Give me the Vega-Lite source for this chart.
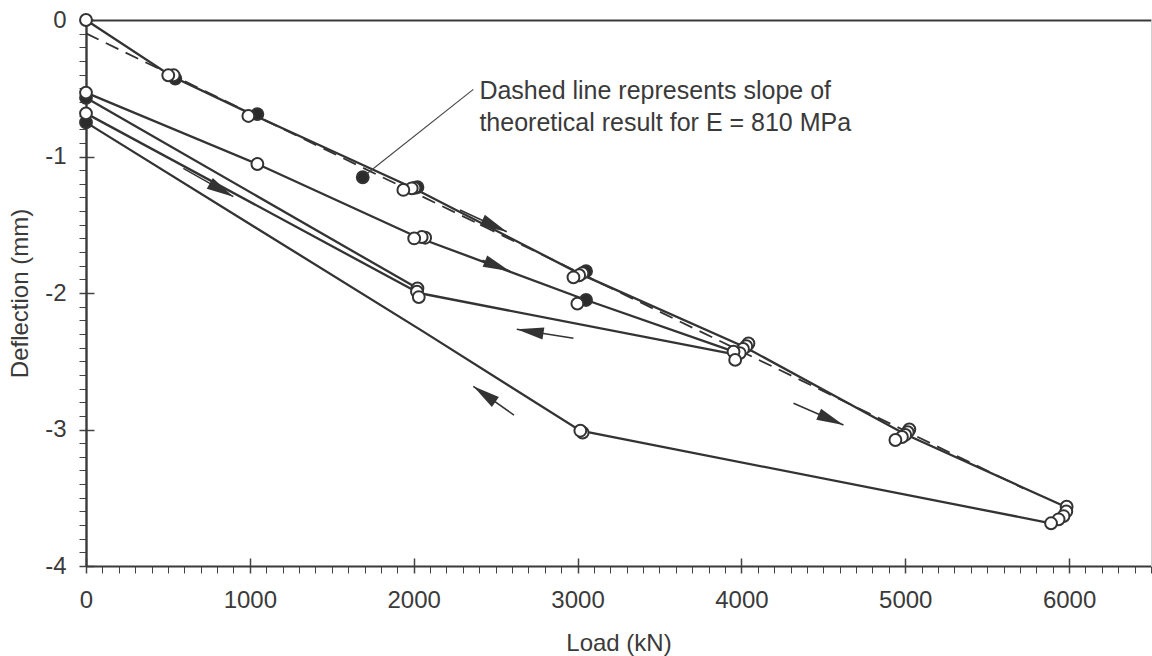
{
  "$schema": "https://vega.github.io/schema/vega-lite/v6.json",
  "width": 1065,
  "height": 546,
  "autosize": {"type": "none"},
  "padding": {"left": 86, "top": 20, "right": 1, "bottom": 90},
  "background": "white",
  "config": {
    "view": {"stroke": null},
    "font": "Liberation Sans",
    "text": {"font": "Liberation Sans"}
  },
  "datasets": {
    "lines": [
      {"seg": "L1", "o": 1, "load": 0, "defl": 0},
      {"seg": "L1", "o": 2, "load": 520, "defl": -0.41},
      {"seg": "L1", "o": 3, "load": 1020, "defl": -0.695},
      {"seg": "L1", "o": 4, "load": 2000, "defl": -1.232},
      {"seg": "L1", "o": 5, "load": 3015, "defl": -1.86},
      {"seg": "L1", "o": 6, "load": 4020, "defl": -2.395},
      {"seg": "L1", "o": 7, "load": 5000, "defl": -3.035},
      {"seg": "L1", "o": 8, "load": 5985, "defl": -3.57},
      {"seg": "L2", "o": 1, "load": 0, "defl": -0.532},
      {"seg": "L2", "o": 2, "load": 1046, "defl": -1.055},
      {"seg": "L2", "o": 3, "load": 2030, "defl": -1.595},
      {"seg": "L2", "o": 4, "load": 3052, "defl": -2.051},
      {"seg": "L2", "o": 5, "load": 3955, "defl": -2.43},
      {"seg": "L3", "o": 1, "load": 0, "defl": -0.57},
      {"seg": "L3", "o": 2, "load": 2023, "defl": -1.966},
      {"seg": "L4a", "o": 1, "load": 0, "defl": -0.684},
      {"seg": "L4a", "o": 2, "load": 2031, "defl": -2.0},
      {"seg": "L4b", "o": 1, "load": 2031, "defl": -2.0},
      {"seg": "L4b", "o": 2, "load": 3960, "defl": -2.45},
      {"seg": "L5", "o": 1, "load": 0, "defl": -0.75},
      {"seg": "L5", "o": 2, "load": 2059, "defl": -2.283},
      {"seg": "L5", "o": 3, "load": 3017, "defl": -3.009},
      {"seg": "L5", "o": 4, "load": 5890, "defl": -3.687}
    ],
    "theory": [
      {"load": 0, "defl": -0.098},
      {"load": 5722, "defl": -3.431}
    ],
    "points": [
      {"load": 0, "defl": 0, "kind": "open"},
      {"load": 545, "defl": -0.43, "kind": "filled"},
      {"load": 535, "defl": -0.405, "kind": "open"},
      {"load": 502, "defl": -0.405, "kind": "open"},
      {"load": 1046, "defl": -0.689, "kind": "filled"},
      {"load": 991, "defl": -0.703, "kind": "open"},
      {"load": 0, "defl": -0.57, "kind": "filled"},
      {"load": 0, "defl": -0.532, "kind": "open"},
      {"load": 0, "defl": -0.75, "kind": "filled"},
      {"load": 0, "defl": -0.684, "kind": "open"},
      {"load": 1046, "defl": -1.055, "kind": "open"},
      {"load": 1689, "defl": -1.152, "kind": "filled"},
      {"load": 2023, "defl": -1.225, "kind": "filled"},
      {"load": 2005, "defl": -1.23, "kind": "open"},
      {"load": 1988, "defl": -1.233, "kind": "open"},
      {"load": 1937, "defl": -1.245, "kind": "open"},
      {"load": 2070, "defl": -1.595, "kind": "open"},
      {"load": 2049, "defl": -1.59, "kind": "open"},
      {"load": 2003, "defl": -1.6, "kind": "open"},
      {"load": 2023, "defl": -1.966, "kind": "open"},
      {"load": 2020, "defl": -1.99, "kind": "open"},
      {"load": 2031, "defl": -2.03, "kind": "open"},
      {"load": 3052, "defl": -1.84, "kind": "filled"},
      {"load": 3030, "defl": -1.855, "kind": "open"},
      {"load": 3010, "defl": -1.87, "kind": "open"},
      {"load": 2975, "defl": -1.885, "kind": "open"},
      {"load": 3052, "defl": -2.051, "kind": "filled"},
      {"load": 2999, "defl": -2.078, "kind": "open"},
      {"load": 4043, "defl": -2.37, "kind": "open"},
      {"load": 4030, "defl": -2.39, "kind": "open"},
      {"load": 4010, "defl": -2.41, "kind": "open"},
      {"load": 3990, "defl": -2.44, "kind": "open"},
      {"load": 3952, "defl": -2.43, "kind": "open"},
      {"load": 3962, "defl": -2.49, "kind": "open"},
      {"load": 5025, "defl": -3.0, "kind": "open"},
      {"load": 5015, "defl": -3.02, "kind": "open"},
      {"load": 5000, "defl": -3.04, "kind": "open"},
      {"load": 4980, "defl": -3.055, "kind": "open"},
      {"load": 4940, "defl": -3.077, "kind": "open"},
      {"load": 5985, "defl": -3.565, "kind": "open"},
      {"load": 5983, "defl": -3.6, "kind": "open"},
      {"load": 5966, "defl": -3.634, "kind": "open"},
      {"load": 5936, "defl": -3.658, "kind": "open"},
      {"load": 5890, "defl": -3.687, "kind": "open"},
      {"load": 3031, "defl": -3.023, "kind": "open"},
      {"load": 3017, "defl": -3.009, "kind": "open"}
    ],
    "arrows": [
      {"tx": 594, "ty": -1.087, "hx": 899, "hy": -1.294},
      {"tx": 2283, "ty": -1.392, "hx": 2568, "hy": -1.551},
      {"tx": 2420, "ty": -1.76, "hx": 2588, "hy": -1.84},
      {"tx": 2975, "ty": -2.332, "hx": 2629, "hy": -2.266},
      {"tx": 2612, "ty": -2.894, "hx": 2364, "hy": -2.684},
      {"tx": 4318, "ty": -2.808, "hx": 4623, "hy": -2.967}
    ],
    "leader": [
      {"x1": 1710, "y1": -1.13, "x2": 2364, "y2": -0.508}
    ],
    "note": [
      {"load": 2401, "defl": -0.581, "label": "Dashed line represents slope of\ntheoretical result for E = 810 MPa"}
    ]
  },
  "resolve": {"axis": {"x": "independent", "y": "independent"}},
  "layer": [
    {
      "data": {"name": "lines"},
      "mark": {"type": "line", "color": "#333333", "strokeWidth": 2.3},
      "encoding": {
        "x": {
          "field": "load", "type": "quantitative",
          "scale": {"domain": [0, 6500], "nice": false, "zero": false},
          "axis": {
            "orient": "bottom",
            "title": "Load (kN)",
            "values": [0,100,200,300,400,500,600,700,800,900,1000,1100,1200,1300,1400,1500,1600,1700,1800,1900,2000,2100,2200,2300,2400,2500,2600,2700,2800,2900,3000,3100,3200,3300,3400,3500,3600,3700,3800,3900,4000,4100,4200,4300,4400,4500,4600,4700,4800,4900,5000,5100,5200,5300,5400,5500,5600,5700,5800,5900,6000,6100,6200,6300,6400,6500],
            "labelExpr": "datum.value % 1000 === 0 ? datum.value + '' : ''",
            "labelOverlap": false, "labelFlush": false, "labelBound": false,
            "labelFontSize": 24, "labelColor": "#3a3a3a", "labelPadding": 15,
            "tickSize": 7, "tickColor": "#444444",
            "tickWidth": {"condition": {"test": "datum.value % 1000 === 0", "value": 1.5}, "value": 1},
            "domainColor": "#3a3a3a", "domainWidth": 2.2,
            "grid": true, "gridColor": "#444444", "gridWidth": 1.5, "gridDash": [8, 538], "gridDashOffset": 8,
            "gridOpacity": {"condition": {"test": "datum.value % 1000 === 0", "value": 1}, "value": 0},
            "titleFontSize": 24, "titleFontWeight": "normal", "titleColor": "#3a3a3a", "titlePadding": 19
          }
        },
        "y": {
          "field": "defl", "type": "quantitative",
          "scale": {"domain": [-4, 0], "nice": false, "zero": false},
          "axis": {
            "orient": "left",
            "title": "Deflection (mm)",
            "values": [-4,-3.9,-3.8,-3.7,-3.6,-3.5,-3.4,-3.3,-3.2,-3.1,-3,-2.9,-2.8,-2.7,-2.6,-2.5,-2.4,-2.3,-2.2,-2.1,-2,-1.9,-1.8,-1.7,-1.6,-1.5,-1.4,-1.3,-1.2,-1.1,-1,-0.9,-0.8,-0.7,-0.6,-0.5,-0.4,-0.3,-0.2,-0.1,0],
            "labelExpr": "datum.value % 1 === 0 ? datum.value + '' : ''",
            "labelOverlap": false, "labelFlush": false, "labelBound": false,
            "labelFontSize": 24, "labelColor": "#3a3a3a", "labelPadding": 13,
            "tickSize": 7, "tickColor": "#444444",
            "tickWidth": {"condition": {"test": "datum.value % 1 === 0", "value": 1.5}, "value": 1},
            "domainColor": "#3a3a3a", "domainWidth": 2.4,
            "grid": true, "gridColor": "#444444", "gridWidth": 1.5, "gridDash": [8, 3000],
            "gridOpacity": {"condition": {"test": "datum.value % 1 === 0", "value": 1}, "value": 0},
            "titleFontSize": 24, "titleFontWeight": "normal", "titleColor": "#3a3a3a", "titlePadding": 12
          }
        },
        "detail": {"field": "seg", "type": "nominal"},
        "order": {"field": "o", "type": "quantitative"}
      }
    },
    {
      "data": {"name": "theory"},
      "mark": {"type": "line", "color": "#333333", "strokeWidth": 1.8, "strokeDash": [14, 8]},
      "encoding": {
        "x": {"field": "load", "type": "quantitative", "scale": {"domain": [0, 6500], "nice": false, "zero": false}, "axis": null},
        "y": {"field": "defl", "type": "quantitative", "scale": {"domain": [-4, 0], "nice": false, "zero": false}, "axis": null}
      }
    },
    {
      "data": {"name": "leader"},
      "mark": {"type": "rule", "color": "#444444", "strokeWidth": 1.1},
      "encoding": {
        "x": {"field": "x1", "type": "quantitative", "scale": {"domain": [0, 6500], "nice": false, "zero": false}, "axis": null},
        "y": {"field": "y1", "type": "quantitative", "scale": {"domain": [-4, 0], "nice": false, "zero": false}, "axis": null},
        "x2": {"field": "x2"},
        "y2": {"field": "y2"}
      }
    },
    {
      "data": {"name": "arrows"},
      "mark": {"type": "rule", "color": "#333333", "strokeWidth": 1.5},
      "encoding": {
        "x": {"field": "tx", "type": "quantitative", "scale": {"domain": [0, 6500], "nice": false, "zero": false}, "axis": null},
        "y": {"field": "ty", "type": "quantitative", "scale": {"domain": [-4, 0], "nice": false, "zero": false}, "axis": null},
        "x2": {"field": "hx"},
        "y2": {"field": "hy"}
      }
    },
    {
      "data": {"name": "arrows"},
      "mark": {
        "type": "point", "filled": true, "color": "#333333", "opacity": 1,
        "shape": "M0,0L-2,-0.45L-2,0.45Z", "size": 729,
        "angle": {"expr": "atan2(scale('y', datum.hy) - scale('y', datum.ty), scale('x', datum.hx) - scale('x', datum.tx)) * 180 / PI"}
      },
      "encoding": {
        "x": {"field": "hx", "type": "quantitative", "scale": {"domain": [0, 6500], "nice": false, "zero": false}, "axis": null},
        "y": {"field": "hy", "type": "quantitative", "scale": {"domain": [-4, 0], "nice": false, "zero": false}, "axis": null}
      }
    },
    {
      "data": {"name": "points"},
      "mark": {"type": "point", "filled": true, "stroke": "#333333", "strokeWidth": 2, "size": 140, "opacity": 1},
      "encoding": {
        "x": {
          "field": "load", "type": "quantitative",
          "scale": {"domain": [0, 6500], "nice": false, "zero": false},
          "axis": {"orient": "top", "labels": false, "ticks": false, "title": null, "grid": false, "domainColor": "#3a3a3a", "domainWidth": 2.2}
        },
        "y": {
          "field": "defl", "type": "quantitative",
          "scale": {"domain": [-4, 0], "nice": false, "zero": false},
          "axis": {"orient": "right", "labels": false, "ticks": false, "title": null, "grid": false, "domainColor": "#d0d0d0", "domainWidth": 1}
        },
        "fill": {
          "field": "kind", "type": "nominal",
          "scale": {"domain": ["open", "filled"], "range": ["#ffffff", "#2b2b2b"]},
          "legend": null
        }
      }
    },
    {
      "data": {"name": "note"},
      "mark": {"type": "text", "align": "left", "baseline": "alphabetic", "fontSize": 25, "color": "#3a3a3a", "lineBreak": "\n", "lineHeight": 32, "font": "Liberation Sans"},
      "encoding": {
        "x": {"field": "load", "type": "quantitative", "scale": {"domain": [0, 6500], "nice": false, "zero": false}, "axis": null},
        "y": {"field": "defl", "type": "quantitative", "scale": {"domain": [-4, 0], "nice": false, "zero": false}, "axis": null},
        "text": {"field": "label"}
      }
    }
  ]
}
